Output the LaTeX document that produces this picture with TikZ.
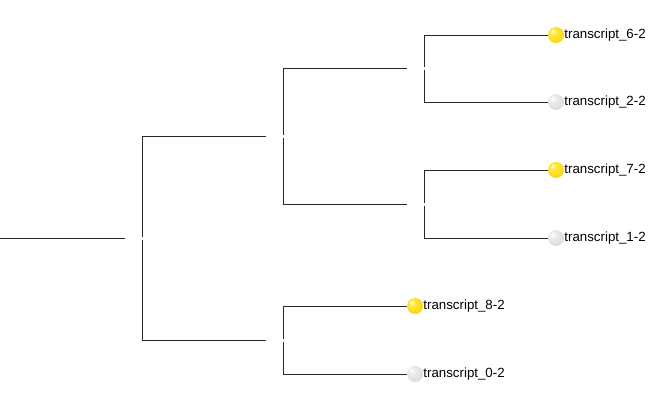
\documentclass[tikz,border=0pt]{standalone}
\usepackage{fontspec}
\setmainfont{Liberation Sans}
\definecolor{lnc}{RGB}{40,40,40}
\definecolor{yA}{RGB}{255,232,60}
\definecolor{yB}{RGB}{250,215,20}
\definecolor{yC}{RGB}{225,180,0}
\definecolor{gA}{RGB}{236,236,236}
\definecolor{gB}{RGB}{220,220,220}
\definecolor{gC}{RGB}{190,190,190}
\pgfdeclareradialshading{yball}{\pgfpoint{-12bp}{12bp}}{color(0bp)=(yellow!15!white); color(10bp)=(yA); color(28bp)=(yB); color(50bp)=(yC)}
\pgfdeclareradialshading{gball}{\pgfpoint{-12bp}{12bp}}{color(0bp)=(white); color(10bp)=(gA); color(28bp)=(gB); color(50bp)=(gC)}
\begin{document}
\begin{tikzpicture}[x=1pt,y=-1pt,
  edge/.style={draw=lnc,line width=0.9pt},
  yleaf/.style={circle,minimum size=16pt,inner sep=0pt,shading=yball},
  gleaf/.style={circle,minimum size=16pt,inner sep=0pt,shading=gball},
  lab/.style={anchor=west,inner sep=0pt,font=\fontsize{13.3}{16}\selectfont}]
\useasboundingbox (0,0) rectangle (648,408);
% coordinates
\coordinate (root) at (0,238);
\coordinate (s0) at (125,238);
\coordinate (v0) at (142,238);
\coordinate (s1) at (266,136);
\coordinate (v1) at (283,136);
\coordinate (s2) at (266,340);
\coordinate (v2) at (283,340);
\coordinate (s3) at (407,68.5);
\coordinate (v3) at (424,68.5);
\coordinate (s4) at (407,204);
\coordinate (v4) at (424,204);
% leaves
\node[yleaf] (l6) at (556,35) {};
\node[gleaf] (l2) at (556,102) {};
\node[yleaf] (l7) at (556,170) {};
\node[gleaf] (l1) at (556,238) {};
\node[yleaf] (l8) at (415,306) {};
\node[gleaf] (l0) at (415,374) {};
% edges
\draw[edge] (root) -- (s0);
\draw[edge] ([yshift=1.5pt]v0) |- (s1);
\draw[edge] ([yshift=-1.5pt]v0) |- (s2);
\draw[edge] ([yshift=1.5pt]v1) |- (s3);
\draw[edge] ([yshift=-1.5pt]v1) |- (s4);
\draw[edge] ([yshift=1.5pt]v3) |- (l6);
\draw[edge] ([yshift=-1.5pt]v3) |- (l2);
\draw[edge] ([yshift=1.5pt]v4) |- (l7);
\draw[edge] ([yshift=-1.5pt]v4) |- (l1);
\draw[edge] ([yshift=1.5pt]v2) |- (l8);
\draw[edge] ([yshift=-1.5pt]v2) |- (l0);
% labels
\node[lab] (t6) at (l6.east) {transcript\_6-2};
\node[lab] (t2) at (l2.east) {transcript\_2-2};
\node[lab] (t7) at (l7.east) {transcript\_7-2};
\node[lab] (t1) at (l1.east) {transcript\_1-2};
\node[lab] (t8) at (l8.east) {transcript\_8-2};
\node[lab] (t0) at (l0.east) {transcript\_0-2};
\end{tikzpicture}
\end{document}
